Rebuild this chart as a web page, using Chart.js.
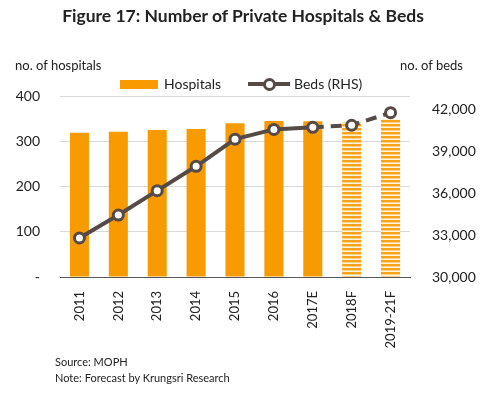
<!DOCTYPE html>
<html>
<head>
  <title>Private Hospitals & Beds</title>
  <script src="https://cdn.jsdelivr.net/npm/chart.js"></script>
  <style>
    body { margin: 0; background: #fff; font-family: Lato, sans-serif; color: #222; }
    #wrap { position: relative; width: 486px; height: 395px; overflow: hidden; }
    #myChart { position: absolute; left: 0; top: 0; }
    .txt { position: absolute; white-space: nowrap; }
    #title { left: 0; width: 486px; top: 5px; text-align: center; font-weight: bold; font-size: 17.5px; }
    #legend .sw { position: absolute; }
  </style>
</head>
<body>
<div id="wrap">
  <canvas id="myChart" width="486" height="395"></canvas>
  <div id="title" class="txt">Figure 17: Number of Private Hospitals &amp; Beds</div>
  <div class="txt" style="left:15px; top:57px; font-size:13px;">no. of hospitals</div>
  <div class="txt" style="left:400px; top:57px; font-size:13px;">no. of beds</div>
  <div id="legend">
    <div class="sw" style="left:120px; top:80px; width:38px; height:9px; background:#f89b00;"></div>
    <div class="txt" style="left:164px; top:75px; font-size:14px;">Hospitals</div>
    <div class="sw" style="left:248px; top:82px; width:42px; height:4px; background:#564a47;"></div>
    <div class="sw" style="left:263px; top:78px; width:7px; height:7px; border:3px solid #564a47; border-radius:50%; background:#fff;"></div>
    <div class="txt" style="left:294px; top:75px; font-size:14px;">Beds (RHS)</div>
  </div>
  <div class="txt" style="left:55px; top:355px; font-size:11px;">Source: MOPH</div>
  <div class="txt" style="left:55px; top:371px; font-size:11px;">Note: Forecast by Krungsri Research</div>
</div>

<script>
  // Data
  const categories = ['2011', '2012', '2013', '2014', '2015', '2016', '2017E', '2018F', '2019-21F'];
  const hospitals = [319, 321, 325, 327, 340, 345, 344, 342, 349];
  const beds = [32800, 34450, 36200, 37950, 39900, 40600, 40750, 40900, 41800];
  const bedTicks = [30000, 33000, 36000, 39000, 42000];
  const forecastFrom = 7; // bars from 2018F on are striped
  const dashFrom = 6;     // line is dashed from 2017E on

  const orange = '#f89b00';
  const lineColor = '#564a47';

  // horizontal stripe pattern for forecast bars
  function makeStripes() {
    const c = document.createElement('canvas');
    c.width = 4; c.height = 4;
    const g = c.getContext('2d');
    g.fillStyle = '#fff4da'; g.fillRect(0, 0, 4, 4);
    g.fillStyle = '#f9a21a'; g.fillRect(0, 0, 4, 2);
    g.fillStyle = '#fcd489'; g.fillRect(0, 2, 4, 1);
    return g.createPattern(c, 'repeat');
  }

  const ctx = document.getElementById('myChart').getContext('2d');
  const stripes = makeStripes();

  const chart = new Chart(ctx, {
    data: {
      labels: categories,
      datasets: [
        {
          type: 'line',
          label: 'Beds (RHS)',
          data: beds,
          yAxisID: 'y1',
          borderColor: lineColor,
          borderWidth: 4,
          pointRadius: 5,
          pointBorderWidth: 3,
          pointBackgroundColor: '#fff',
          pointBorderColor: lineColor,
          tension: 0,
          segment: {
            borderDash: c => c.p0DataIndex >= dashFrom ? [11, 7] : undefined
          },
          order: 0
        },
        {
          type: 'bar',
          label: 'Hospitals',
          data: hospitals,
          yAxisID: 'y',
          backgroundColor: hospitals.map((v, i) => i >= forecastFrom ? stripes : orange),
          barPercentage: 0.49,
          categoryPercentage: 1,
          order: 1
        }
      ]
    },
    options: {
      responsive: false,
      animation: false,
      layout: { padding: { top: 96, left: 0, right: 0, bottom: 0 } },
      plugins: { legend: { display: false }, tooltip: { enabled: false } },
      scales: {
        x: {
          grid: { display: false },
          border: { display: true, color: '#595959', width: 1 },
          ticks: {
            color: '#222', font: { family: 'Lato', size: 13 },
            minRotation: 90, maxRotation: 90, padding: 6
          },
          afterFit: s => { s.height = 118; }
        },
        y: {
          position: 'left',
          min: 0, max: 400,
          ticks: {
            stepSize: 100, padding: 20, color: '#222',
            font: { family: 'Lato', size: 14 },
            callback: v => v === 0 ? '-' : v
          },
          grid: { color: '#d9d9d9', drawTicks: false },
          border: { display: false },
          afterFit: s => { s.width = 60; }
        },
        y1: {
          position: 'right',
          min: 30000, max: 43000,
          afterBuildTicks: s => { s.ticks = bedTicks.map(v => ({ value: v })); },
          ticks: {
            padding: 14, color: '#222',
            font: { family: 'Lato', size: 14 },
            callback: v => v.toLocaleString('en-US')
          },
          grid: { display: false },
          border: { display: false },
          afterFit: s => { s.width = 76; }
        }
      }
    }
  });
</script>
</body>
</html>
